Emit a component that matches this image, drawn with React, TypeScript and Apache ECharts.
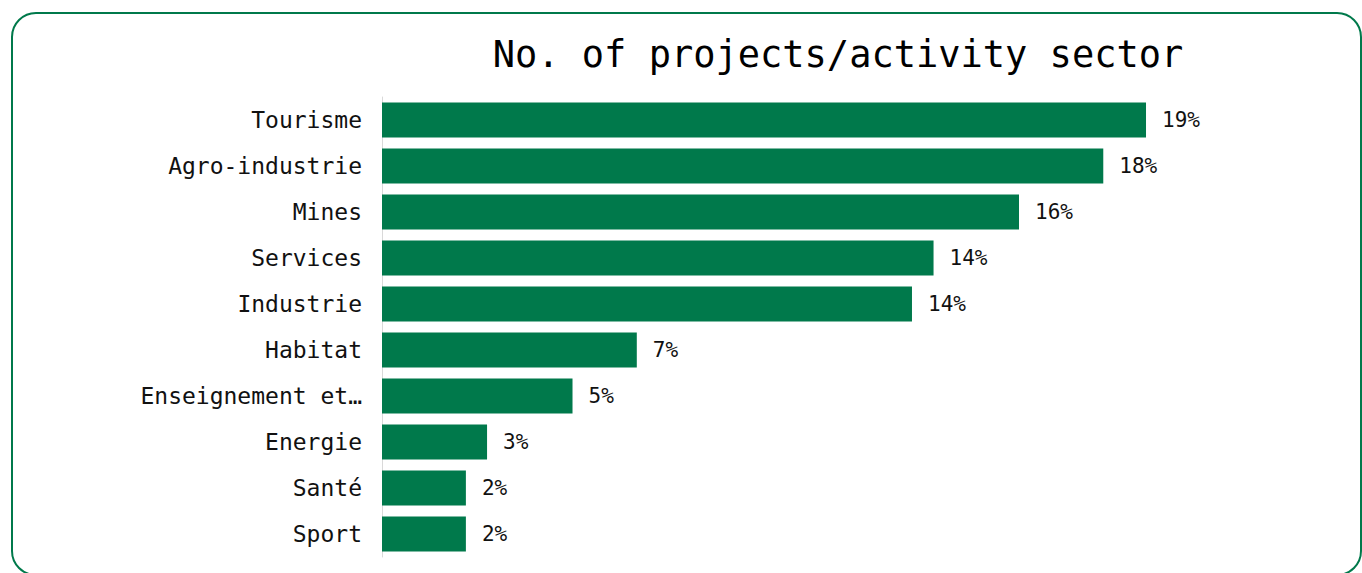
import React, { useEffect, useRef } from "react";
import * as echarts from "echarts";

const categories = [
  "Tourisme",
  "Agro-industrie",
  "Mines",
  "Services",
  "Industrie",
  "Habitat",
  "Enseignement et formation",
  "Energie",
  "Santé",
  "Sport",
];
const shares = [19.49, 18.4, 16.25, 14.07, 13.52, 6.5, 4.86, 2.68, 2.14, 2.14];
const titleText = "No. of projects/activity sector";

export default function App() {
  const ref = useRef<HTMLDivElement>(null);
  useEffect(() => {
    if (!ref.current) return;
    const chart = echarts.init(ref.current, undefined, { renderer: "svg" });
    chart.setOption({
      animation: false,
      backgroundColor: "#ffffff",
      title: {
        text: titleText,
        left: 833,
        textAlign: "center",
        top: 31,
        textStyle: {
          fontFamily: "DejaVu Sans Mono",
          fontSize: 37,
          fontWeight: "normal",
          color: "#000000",
        },
      },
      graphic: [
        {
          type: "rect",
          shape: { x: 12, y: 13, width: 1349, height: 562, r: 24 },
          style: { fill: "none", stroke: "#00794B", lineWidth: 2 },
          silent: true,
        },
      ],
      grid: { left: 382, right: 196, top: 97, bottom: 16, containLabel: false },
      xAxis: {
        type: "value",
        min: 0,
        max: 20,
        show: false,
      },
      yAxis: {
        type: "category",
        data: categories,
        inverse: true,
        axisLine: { show: true, lineStyle: { color: "#d9d9d9", width: 1 } },
        axisTick: { show: false },
        axisLabel: {
          margin: 20,
          fontFamily: "DejaVu Sans Mono",
          fontSize: 23,
          color: "#111111",
          width: 228,
          overflow: "truncate",
          ellipsis: "…",
        },
      },
      series: [
        {
          type: "bar",
          data: shares,
          barCategoryGap: "24%",
          itemStyle: { color: "#00794B" },
          label: {
            show: true,
            position: "right",
            distance: 16,
            fontFamily: "DejaVu Sans Mono",
            fontSize: 21,
            color: "#111111",
            formatter: (p: any) => Math.round(p.value) + "%",
          },
        },
      ],
    });
    return () => chart.dispose();
  }, []);
  return (
    <div
      ref={ref}
      style={{ position: "fixed", left: 0, top: 0, width: 1362, height: 573 }}
    />
  );
}
